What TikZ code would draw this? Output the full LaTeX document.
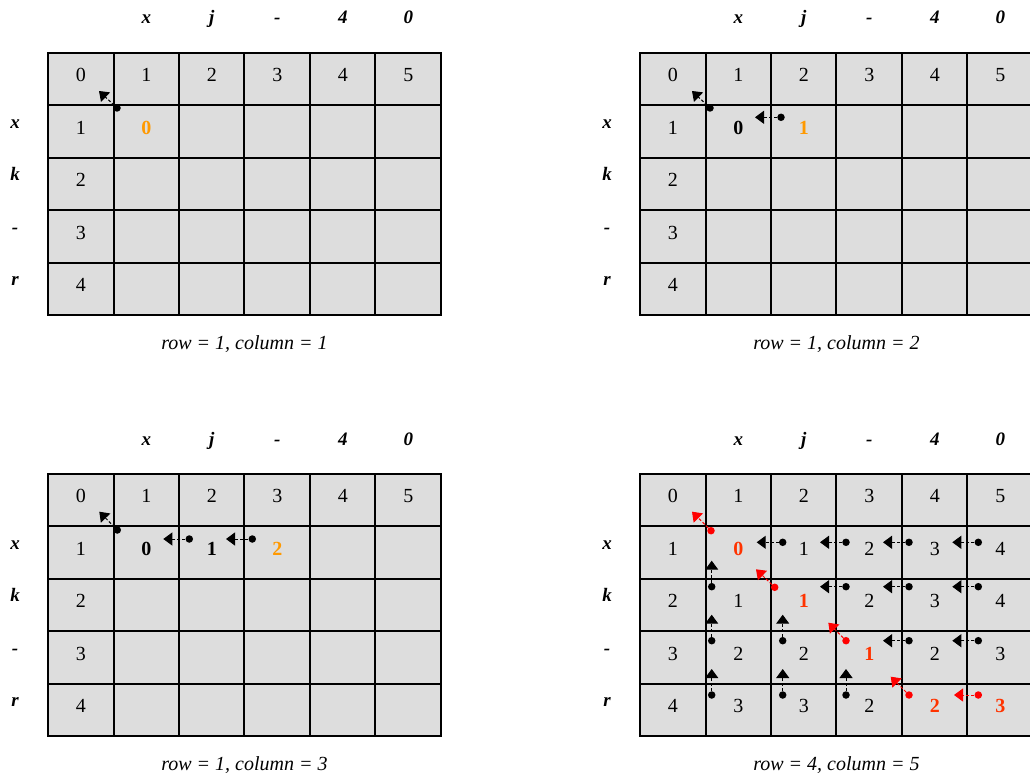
\documentclass[tikz,border=0pt]{standalone}
\usepackage{fontspec}
\setmainfont{Liberation Serif}
\usetikzlibrary{arrows.meta}

\definecolor{cellgray}{HTML}{DDDDDD}
\definecolor{newcell}{HTML}{FF9900}
\definecolor{pathred}{HTML}{FF3300}

% one table: #1 name, #2 corner, #3 caption
\newcommand{\dptable}[3]{%
  \begin{scope}[shift={(#2)}]
    % cells
    \foreach \r in {0,...,4}
      \foreach \c in {0,...,5}
        \node[dpcell] (#1-\r-\c) at (\c*65.5+32.75,\r*52.5+26.25) {};
    \foreach \x in {0,66,131,196,262,327,393}
      \draw[gridline] (\x,0) -- (\x,262);
    \foreach \y in {0,52,105,157,210,262}
      \draw[gridline] (0,\y) -- (393,\y);
    % indices
    \foreach \c in {0,...,5}
      \node[num] (#1-i\c) at (#1-0-\c) {\c};
    \foreach \r in {1,...,4}
      \node[num] (#1-j\r) at (#1-\r-0) {\r};
    % the two strings
    \foreach \c/\t in {1/x,2/j,3/-,4/4,5/0}
      \node[letter] (#1-a\c) at (\c*65.5+32.75,-29) {\t};
    \foreach \r/\t in {1/x,2/k,3/-,4/r}
      \node[letter] (#1-b\r) at (-33,\r*52.5+22.75) {\t};
    \node[caption] (#1-cap) at (196.5,296) {#3};
  \end{scope}}

% one step back: #1 name, #2 dot, #3 tip offset, #4 colour
\newcommand{\hop}[4]{%
  \node[tracedot, #4] (#1) at (#2) {};
  \path (#1) ++(#3) coordinate (#1-tip);
  \draw[traceback, #4] (#1) -- (#1-tip);}

\begin{document}
\begin{tikzpicture}[x=1pt, y=-1pt,
    dpcell/.style={rectangle, fill=cellgray, minimum width=65.5pt, minimum height=52.5pt, inner sep=0pt},
    gridline/.style={line width=1.6pt, line cap=rect},
    num/.style={anchor=base, yshift=-2.5pt, inner sep=0pt, font=\fontsize{20}{24}\selectfont},
    val/.style={num, font=\fontsize{20}{24}\selectfont\bfseries},
    letter/.style={anchor=base, inner sep=0pt, font=\fontsize{19}{22}\selectfont\bfseries\itshape},
    caption/.style={anchor=base, inner sep=0pt, font=\fontsize{20}{24}\selectfont\itshape},
    tracedot/.style={circle, fill, inner sep=0pt, minimum size=7.5pt},
    traceback/.style={line width=1pt, dash pattern=on 3pt off 2pt, -{Triangle[length=9pt, width=13pt]}}
  ]

  \path[use as bounding box, fill=white] (0,0) rectangle (1030,775);

  % Tables
  \dptable{a}{48,53}{row = 1, column = 1}
  \dptable{b}{640,53}{row = 1, column = 2}
  \dptable{c}{48,474}{row = 1, column = 3}
  \dptable{d}{640,474}{row = 4, column = 5}

  % Values
  \node[val, newcell] (a-v11) at (a-1-1) {0};

  \node[val] (b-v11) at (b-1-1) {0};
  \node[val, newcell] (b-v12) at (b-1-2) {1};

  \node[val] (c-v11) at (c-1-1) {0};
  \node[val] (c-v12) at (c-1-2) {1};
  \node[val, newcell] (c-v13) at (c-1-3) {2};

  \foreach \r/\c/\v in {1/2/1,1/3/2,1/4/3,1/5/4,2/1/1,2/3/2,2/4/3,2/5/4,
                        3/1/2,3/2/2,3/4/2,3/5/3,4/1/3,4/2/3,4/3/2}
    \node[num] (d-v\r\c) at (d-\r-\c) {\v};
  \foreach \r/\c/\v in {1/1/0,2/2/1,3/3/1,4/4/2,4/5/3}
    \node[val, pathred] (d-v\r\c) at (d-\r-\c) {\v};

  % Arrows
  \begin{scope}[shift={(48,53)}]
    \hop{a-s1}{69,55}{-18,-17}{black}
  \end{scope}

  \begin{scope}[shift={(640,53)}]
    \hop{b-s1}{70,55}{-18,-17}{black}
    \hop{b-s2}{141,64.3}{-26,0}{black}
  \end{scope}

  \begin{scope}[shift={(48,474)}]
    \hop{c-s1}{69.3,56}{-18,-18.3}{black}
    \hop{c-s2}{141.3,65}{-26,0}{black}
    \hop{c-s3}{204.3,65}{-26.3,0}{black}
  \end{scope}

  \begin{scope}[shift={(640,474)}]
    \foreach \x/\y [count=\i] in {142.7/68.3,206/68.3,269/68.3,338.3/68.3,
                                  206/112.7,269/112.7,338.3/112.7,269/166.7,338.3/166.7}
      {\hop{d-h\i}{\x,\y}{-26,0}{black}}
    \foreach \x/\y [count=\i] in {71.7/112.7,71.7/166.7,71.7/221,142.7/166.7,142.7/221,206/221}
      {\hop{d-u\i}{\x,\y}{0,-26}{black}}
    \hop{d-p1}{71,56.7}{-19,-19}{red}
    \hop{d-p2}{134.7,113.3}{-18.7,-18}{red}
    \hop{d-p3}{206,166.7}{-17.7,-18}{red}
    \hop{d-p4}{269,221}{-18.3,-18.3}{red}
    \hop{d-p5}{338.3,221}{-24.3,0}{red}
  \end{scope}

\end{tikzpicture}
\end{document}
